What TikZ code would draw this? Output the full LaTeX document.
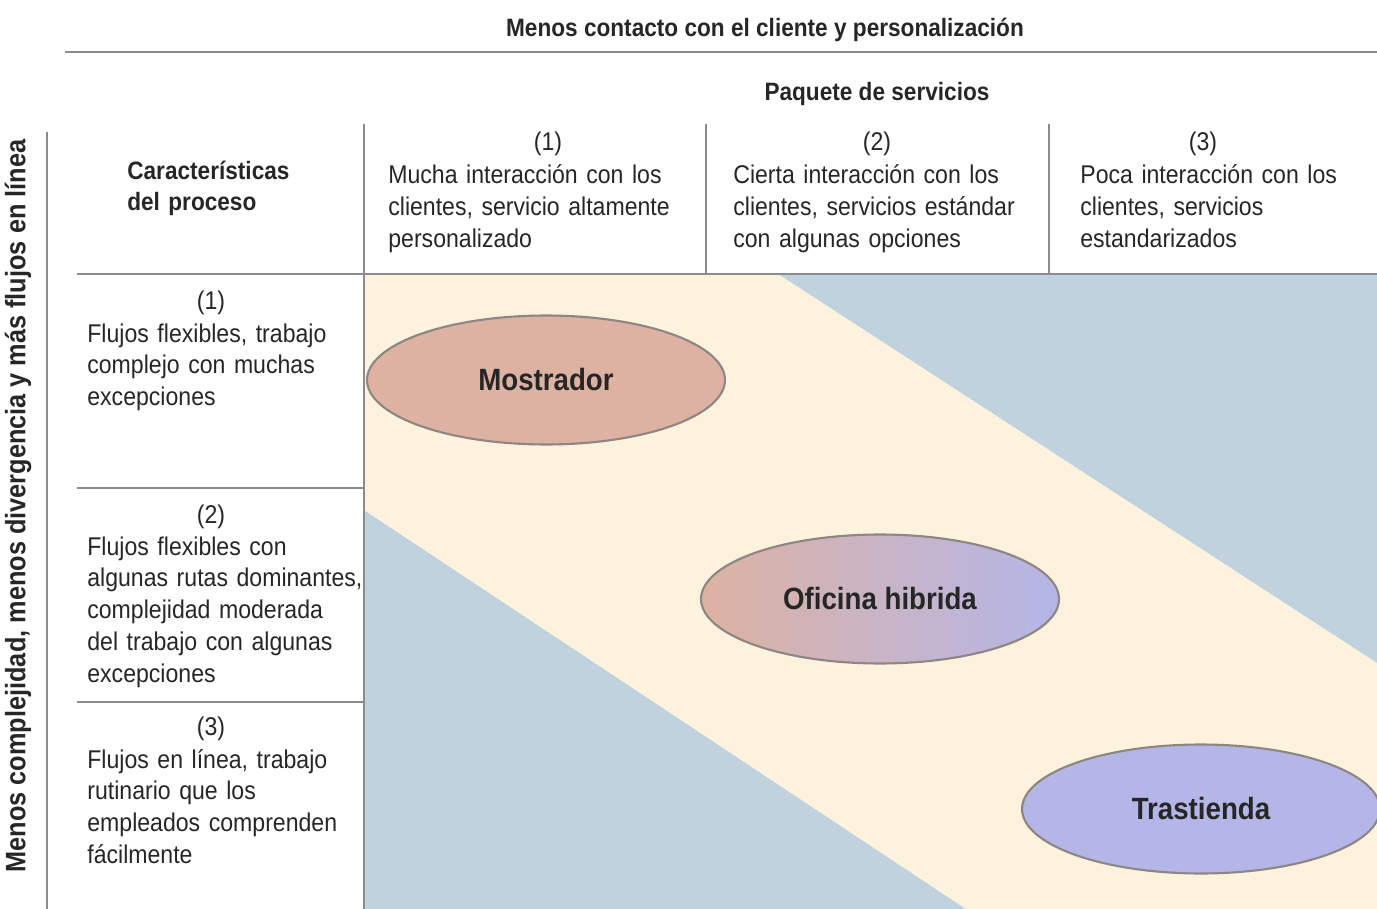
\documentclass[tikz,border=0pt]{standalone}
\usepackage{fontspec}
\setmainfont{Liberation Sans}[FakeStretch=0.9]
\usepackage{xcolor}
\usepackage{tikz}
\usetikzlibrary{positioning, shapes.geometric}

\definecolor{bandblue}{HTML}{C0D2DD}
\definecolor{bandcream}{HTML}{FDF2DE}
\definecolor{gridgray}{HTML}{8C8C8C}
\definecolor{ovalrose}{HTML}{DDB2A2}
\definecolor{ovallilac}{HTML}{B4B6E8}
\definecolor{ovaledge}{HTML}{8E8682}

\begin{document}
\begin{tikzpicture}[
  x=0.02cm, y=-0.02cm,
  every node/.style={inner sep=0pt, text=black!85},
  hdr/.style={font=\fontsize{14.3}{18.2}\selectfont\bfseries},
  num/.style={font=\fontsize{14.6}{18.2}\selectfont, anchor=base},
  body/.style={font=\fontsize{14.6}{18.2}\selectfont, anchor=base west, align=left, text width=8cm},
  oval/.style={ellipse, draw=ovaledge, line width=1.2pt, minimum width=7.16cm, minimum height=2.58cm,
    font=\fontsize{17.5}{20}\selectfont\bfseries},
  grid/.style={draw=gridgray, line width=1.1pt}
]
\useasboundingbox (0,0) rectangle (1377,909);

% --- Background of the matrix ---
\fill[bandblue] (364,274) rectangle (1377,909);
\fill[bandcream] (364,274) -- (778,274) -- (1377,663) -- (1377,909)
  -- (966,909) -- (364,510) -- cycle;

% --- Grid lines ---
\draw[grid] (65,52) -- (1377,52);
\draw[grid] (364,124) -- (364,909);
\draw[grid] (706,124) -- (706,274);
\draw[grid] (1049,124) -- (1049,274);
\draw[grid] (77,274) -- (1377,274);
\draw[grid] (77,488) -- (364,488);
\draw[grid] (77,702) -- (364,702);
\draw[grid] (47,132) -- (47,909);

% --- Axis titles ---
\node[hdr, anchor=base] (toptitle) at (765,37) {Menos contacto con el cliente y personalización};
\node[hdr, anchor=base] (paquete) at (877,101) {Paquete de servicios};
\node[hdr, rotate=90, font=\fontsize{16}{18.2}\selectfont\bfseries] (sidetitle) at (18,506)
  {Menos complejidad, menos divergencia y más flujos en línea};

% --- Column headers ---
\node[hdr, anchor=base west, align=left, text width=6cm] (caract) at (127,179)
  {Características\\del proceso};
\node[num] (c1num) at (548,151) {(1)};
\node[body] (c1txt) at (388,184)
  {Mucha interacción con los\\clientes, servicio altamente\\personalizado};
\node[num] (c2num) at (877,151) {(2)};
\node[body] (c2txt) at (733,184)
  {Cierta interacción con los\\clientes, servicios estándar\\con algunas opciones};
\node[num] (c3num) at (1203,151) {(3)};
\node[body] (c3txt) at (1080,184)
  {Poca interacción con los\\clientes, servicios\\estandarizados};

% --- Row headers ---
\node[num] (r1num) at (211,309) {(1)};
\node[body] (r1txt) at (87,342)
  {Flujos flexibles, trabajo\\complejo con muchas\\excepciones};
\node[num] (r2num) at (211,523) {(2)};
\node[body] (r2txt) at (87,555)
  {Flujos flexibles con\\algunas rutas dominantes,\\complejidad moderada\\del trabajo con algunas\\excepciones};
\node[num] (r3num) at (211,735) {(3)};
\node[body] (r3txt) at (87,768)
  {Flujos en línea, trabajo\\rutinario que los\\empleados comprenden\\fácilmente};

% --- Service types ---
\node[oval, fill=ovalrose] (mostrador) at (546,380) {Mostrador};
\node[oval, left color=ovalrose, right color=ovallilac] (oficina) at (880,599) {Oficina hibrida};
\node[oval, fill=ovallilac] (trastienda) at (1201,809) {Trastienda};

\end{tikzpicture}
\end{document}
